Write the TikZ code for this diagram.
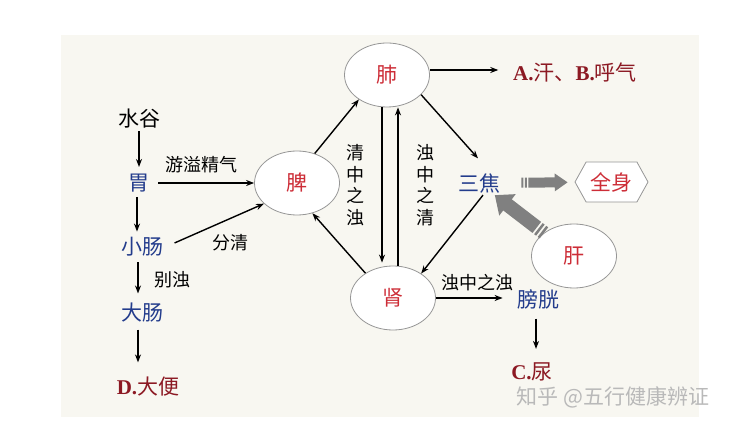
\documentclass[tikz,border=0pt]{standalone}
\usepackage{fontspec}
\setmainfont{Noto Sans CJK SC}
\newfontfamily\timesfont{Liberation Serif}
\usepackage{tikz}
\usetikzlibrary{arrows.meta, positioning, shapes.geometric, shapes.symbols}
\usepackage{xcolor}
\definecolor{panel}{RGB}{248,247,241}
\definecolor{organred}{RGB}{205,45,55}
\definecolor{fublue}{RGB}{35,60,140}
\definecolor{outred}{RGB}{140,25,35}
\definecolor{blockgray}{RGB}{128,128,128}
\definecolor{rimgray}{RGB}{150,150,150}

\begin{document}
\begin{tikzpicture}[x=0.5pt, y=-0.5pt,
  organ/.style={ellipse, draw=rimgray, fill=white, minimum width=42.5pt, minimum height=32pt,
    inner sep=0pt, text=organred, font=\fontsize{10.5}{12}\selectfont},
  fu/.style={inner sep=1pt, text=fublue, font=\fontsize{10.5}{12}\selectfont},
  note/.style={inner sep=1pt, font=\fontsize{9}{10.75}\selectfont},
  outlet/.style={inner sep=1pt, text=outred, font=\fontsize{10.5}{12}\selectfont},
  flow/.style={draw, line width=0.7pt, -{Stealth[length=4pt, width=3pt]}},
  block/.style={draw=blockgray, line width=5pt, line cap=butt,
    -{Triangle[length=6.5pt, width=8.5pt]},
    dash pattern=on 1pt off 0.75pt on 1pt off 0.75pt on 60pt off 1pt}]
  \useasboundingbox (0,0) rectangle (731,426);
  \fill[panel] (61,35) rectangle (699,417);

  % Zang organs
  \node[organ] (fei) at (387,75) {肺};
  \node[organ] (pi) at (297,183) {脾};
  \node[organ] (shen) at (393,298) {肾};
  \node[organ] (gan) at (574,256) {肝};

  % Digestive column
  \node[note, font=\fontsize{10.5}{12}\selectfont] (shuigu) at (139,119) {水谷};
  \node[fu] (wei) at (139,183) {胃};
  \node[fu] (xiaochang) at (142,247) {小肠};
  \node[fu] (dachang) at (142,313) {大肠};
  \node[outlet] (dabian) at (148,387) {{\timesfont\bfseries D.}大便};

  % Right side
  \node[fu] (sanjiao) at (479,183) {三焦};
  \node[signal, signal to=west and east, signal pointer angle=122, draw=rimgray, fill=white,
    minimum width=36.5pt, minimum height=20pt, inner sep=0pt, text=organred,
    font=\fontsize{10.5}{12}\selectfont] (quanshen) at (611.5,182) {全身};
  \node[outlet] (hanqi) at (575,72) {{\timesfont\bfseries A.}汗、{\timesfont\bfseries B.}呼气};
  \node[fu] (pangguang) at (538,299) {膀胱};
  \node[outlet] (niao) at (532,372) {{\timesfont\bfseries C.}尿};

  % Labels
  \node[note] (youyi) at (201,165) {游溢精气};
  \node[note] (fenqing) at (230,243) {分清};
  \node[note] (biezhuo) at (172,280) {别浊};
  \node[note, align=center] (qingzhuo) at (355,185) {清\\中\\之\\浊};
  \node[note, align=center] (zhuoqing) at (425,185) {浊\\中\\之\\清};
  \node[note] (zhuozhuo) at (477,283) {浊中之浊};
  \node[font=\fontsize{10.5}{12}\selectfont, text=gray!55] (mark) at (613,397) {知乎 @五行健康辨证};

  % Digestive flow
  \draw[flow, shorten >=2.25pt] (shuigu.south) -- (shuigu.south |- wei.north);
  \draw[flow, shorten <=1.25pt, shorten >=1.75pt] ([xshift=-1pt]wei.south) -- ([xshift=-1pt]wei.south |- xiaochang.north);
  \draw[flow, shorten <=1.75pt, shorten >=3.75pt] ([xshift=-2pt]xiaochang.south) -- ([xshift=-2pt]xiaochang.south |- dachang.north);
  \draw[flow, shorten <=2.25pt, shorten >=6.25pt] ([xshift=-2pt]dachang.south) -- ([xshift=-2pt]dachang.south |- dabian.north);
  \draw[flow, shorten <=3.25pt] (wei.east) -- (pi.west);
  \draw[flow, shorten <=5pt] (xiaochang.east) -- (pi.212);

  % Between the organs
  \draw[flow] (pi.59) -- (fei.221);
  \draw[flow, shorten >=1.5pt] ([xshift=-2.5pt]fei.south) -- ([xshift=-2.5pt]fei.south |- shen.north);
  \draw[flow] ([xshift=2.5pt]shen.north) -- ([xshift=2.5pt]shen.north |- fei.south);
  \draw[flow] (fei.-30) -- ([shift={(-0.5pt,6.25pt)}]sanjiao.north);
  \draw[flow] ([xshift=2pt]sanjiao.south) -- (shen.41);
  \draw[flow] (shen.138) -- (pi.-63);
  \draw[flow, shorten >=6.25pt] ([yshift=2.5pt]fei.east) -- ([yshift=2.5pt]fei.east -| hanqi.west);
  \draw[flow, shorten >=6pt] (shen.east) -- (shen.east -| pangguang.west);
  \draw[flow, shorten <=3.75pt, shorten >=5.75pt] ([xshift=-1pt]pangguang.south) -- ([xshift=-1pt]pangguang.south |- niao.north);

  % Block arrows
  \draw[block, shorten <=9.5pt, shorten >=3.5pt] (sanjiao) -- (quanshen);
  \draw[block, line width=7pt, -{Triangle[length=8pt, width=13pt]},
    dash pattern=on 1.25pt off 1pt on 1.25pt off 1pt on 60pt off 1pt] (gan) -- (sanjiao);
\end{tikzpicture}
\end{document}
